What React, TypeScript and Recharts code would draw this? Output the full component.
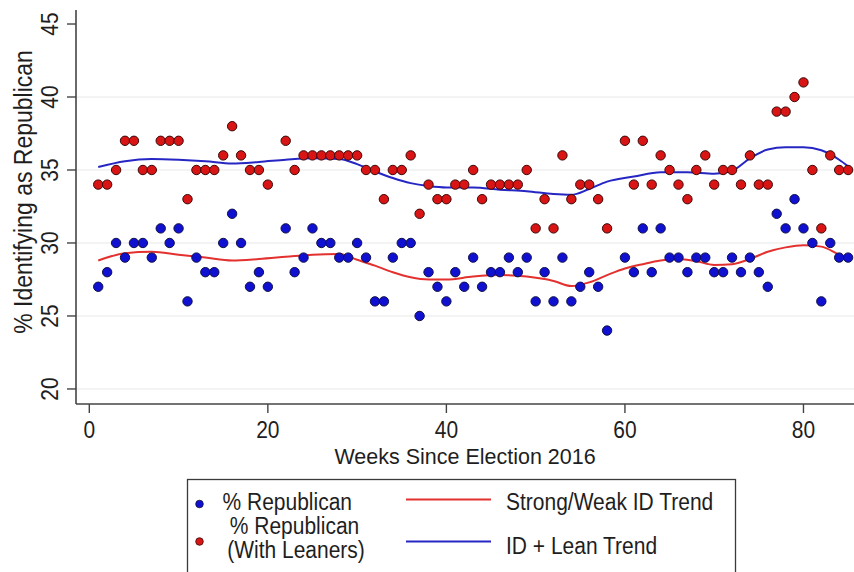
import { ComposedChart, Scatter, Line, XAxis, YAxis, ReferenceLine } from 'recharts';

// ─── Weekly poll values (weeks 21 and 59 have no poll) ───────────────────────
const WEEKS = [
  1, 2, 3, 4, 5, 6, 7, 8, 9, 10, 11, 12, 13, 14, 15, 16, 17, 18, 19, 20,
  22, 23, 24, 25, 26, 27, 28, 29, 30, 31, 32, 33, 34, 35, 36, 37, 38, 39, 40,
  41, 42, 43, 44, 45, 46, 47, 48, 49, 50, 51, 52, 53, 54, 55, 56, 57, 58,
  60, 61, 62, 63, 64, 65, 66, 67, 68, 69, 70, 71, 72, 73, 74, 75, 76, 77, 78, 79, 80, 81, 82, 83, 84, 85,
];

const REP = [
  27, 28, 30, 29, 30, 30, 29, 31, 30, 31, 26, 29, 28, 28, 30, 32, 30, 27, 28, 27,
  31, 28, 29, 31, 30, 30, 29, 29, 30, 29, 26, 26, 29, 30, 30, 25, 28, 27, 26,
  28, 27, 29, 27, 28, 28, 29, 28, 29, 26, 28, 26, 29, 26, 27, 28, 27, 24,
  29, 28, 31, 28, 31, 29, 29, 28, 29, 29, 28, 28, 29, 28, 29, 28, 27, 32, 31, 33, 31, 30, 26, 30, 29, 29,
];

const REP_LEAN = [
  34, 34, 35, 37, 37, 35, 35, 37, 37, 37, 33, 35, 35, 35, 36, 38, 36, 35, 35, 34,
  37, 35, 36, 36, 36, 36, 36, 36, 36, 35, 35, 33, 35, 35, 36, 32, 34, 33, 33,
  34, 34, 35, 33, 34, 34, 34, 34, 35, 31, 33, 31, 36, 33, 34, 34, 33, 31,
  37, 34, 37, 34, 36, 35, 34, 33, 35, 36, 34, 35, 35, 34, 36, 34, 34, 39, 39, 40, 41, 35, 31, 36, 35, 35,
];

// ─── Smoothed trends ─────────────────────────────────────────────────────────
const ID_TREND_WEEKS = [1, 4, 7, 10, 13, 16, 19, 22, 25, 28, 30, 32, 34, 36, 38, 40, 43, 46, 49, 52, 54, 56, 58, 60, 62, 64, 66, 68, 70, 72, 74, 76, 78, 80, 82, 84, 85];
const ID_TREND = [28.8, 29.3, 29.4, 29.2, 29.0, 28.8, 28.9, 29.05, 29.2, 29.25, 28.85, 28.45, 28.0, 27.65, 27.5, 27.5, 27.7, 27.8, 27.7, 27.4, 27.05, 27.3, 27.8, 28.25, 28.55, 28.8, 28.9, 28.75, 28.5, 28.55, 28.9, 29.4, 29.7, 29.85, 29.75, 29.2, 28.95];

const LEAN_TREND_WEEKS = [1, 4, 7, 10, 13, 16, 19, 22, 25, 28, 30, 32, 34, 36, 38, 40, 43, 46, 49, 52, 54, 56, 58, 61, 64, 67, 70, 72, 74, 76, 78, 80, 82, 84, 85];
const LEAN_TREND = [35.2, 35.6, 35.75, 35.7, 35.6, 35.45, 35.55, 35.7, 35.8, 35.75, 35.4, 34.9, 34.45, 34.1, 33.9, 33.8, 33.8, 33.65, 33.55, 33.35, 33.3, 33.7, 34.2, 34.55, 34.85, 34.85, 34.75, 34.95, 35.8, 36.4, 36.55, 36.55, 36.35, 35.7, 35.25];

const X_TICKS = [0, 20, 40, 60, 80];
const Y_TICKS = [20, 25, 30, 35, 40, 45];
const GRID_VALUES = [20, 25, 30, 35, 40];

const FONT = "'Liberation Sans', Arial, sans-serif";
const STRETCH = 1.1;
const AXIS_CLR = '#444';
const TEXT_CLR = '#1e1e1e';

const CLR = {
  repFill: '#1010d0',
  repEdge: '#10104a',
  leanFill: '#d81414',
  leanEdge: '#3c0808',
  idLine: '#e2312f',
  leanLine: '#2626c4',
};

const repData = WEEKS.map((week, i) => ({ week, y: REP[i] }));
const leanData = WEEKS.map((week, i) => ({ week, y: REP_LEAN[i] }));
const idTrendData = ID_TREND_WEEKS.map((week, i) => ({ week, y: ID_TREND[i] }));
const leanTrendData = LEAN_TREND_WEEKS.map((week, i) => ({ week, y: LEAN_TREND[i] }));

const dot = (fill: string, stroke: string) => (p: any) => (
  <circle cx={p.cx} cy={p.cy} r={4.7} fill={fill} stroke={stroke} strokeWidth={1} />
);

function XTick({ x, y, payload }: any) {
  return (
    <g transform={`translate(${x},${y}) scale(1,${STRETCH})`}>
      <text x={0} y={20.8} textAnchor="middle" fontSize={21} fontFamily={FONT} fill={TEXT_CLR}>
        {payload.value}
      </text>
    </g>
  );
}

function YTick({ x, y, payload }: any) {
  return (
    <g transform={`translate(${x},${y}) rotate(-90) scale(1,${STRETCH})`}>
      <text x={0} y={-6} textAnchor="middle" fontSize={21} fontFamily={FONT} fill={TEXT_CLR}>
        {payload.value}
      </text>
    </g>
  );
}

function XTitle({ viewBox }: any) {
  const cx = viewBox.x + viewBox.width / 2;
  return (
    <g transform={`translate(${cx},${viewBox.y + 59.5}) scale(1,1.05)`}>
      <text x={0} y={0} textAnchor="middle" fontSize={21.5} fontFamily={FONT} fill={TEXT_CLR}>
        Weeks Since Election 2016
      </text>
    </g>
  );
}

function YTitle() {
  return (
    <g transform={`translate(32,192) rotate(-90) scale(1,${STRETCH})`}>
      <text x={0} y={0} textAnchor="middle" fontSize={23} fontFamily={FONT} fill={TEXT_CLR}>
        % Identifying as Republican
      </text>
    </g>
  );
}

function LegendBox() {
  const t = { fontSize: 21, fontFamily: FONT, fill: TEXT_CLR };
  const line = (x: number, y: number, label: string, anchor: 'start' | 'middle' = 'start') => (
    <g transform={`translate(${x},${y}) scale(1,${STRETCH})`}>
      <text x={0} y={0} textAnchor={anchor} {...t}>{label}</text>
    </g>
  );
  return (
    <svg width={854} height={572} style={{ position: 'absolute', left: 0, top: 0, pointerEvents: 'none' }}>
      <rect x={187.5} y={479.5} width={548} height={120} fill="#fff" stroke="#3a3a3a" strokeWidth={1.3} />
      <circle cx={199.5} cy={504} r={3.8} fill={CLR.repFill} stroke={CLR.repEdge} strokeWidth={0.8} />
      {line(222.5, 509.5, '% Republican')}
      <line x1={406} x2={491} y1={499.5} y2={499.5} stroke={CLR.idLine} strokeWidth={2} />
      {line(506, 510, 'Strong/Weak ID Trend')}
      <circle cx={199.5} cy={541.5} r={3.8} fill={CLR.leanFill} stroke={CLR.leanEdge} strokeWidth={0.8} />
      {line(294.5, 534, '% Republican', 'middle')}
      {line(296, 557.5, '(With Leaners)', 'middle')}
      <line x1={406} x2={491} y1={541.5} y2={541.5} stroke={CLR.leanLine} strokeWidth={2} />
      {line(506, 553.5, 'ID + Lean Trend')}
    </svg>
  );
}

export default function App() {
  return (
    <div style={{ position: 'absolute', left: 0, top: 0, width: 854, height: 572, background: '#fff', overflow: 'hidden' }}>
      <ComposedChart width={854} height={572} margin={{ top: 10, right: 0, bottom: 0, left: 0 }}>
        <XAxis
          type="number"
          dataKey="week"
          domain={[-1.49, 85.66]}
          allowDataOverflow
          ticks={X_TICKS}
          tickSize={9}
          height={168}
          axisLine={{ stroke: AXIS_CLR, strokeWidth: 1.6 }}
          tickLine={{ stroke: AXIS_CLR, strokeWidth: 1.4 }}
          tick={<XTick />}
          label={<XTitle />}
        />
        <YAxis
          type="number"
          domain={[18.97, 45.96]}
          allowDataOverflow
          ticks={Y_TICKS}
          tickSize={9}
          width={76}
          axisLine={{ stroke: AXIS_CLR, strokeWidth: 1.6 }}
          tickLine={{ stroke: AXIS_CLR, strokeWidth: 1.4 }}
          tick={<YTick />}
          label={<YTitle />}
        />
        {GRID_VALUES.map(v => (
          <ReferenceLine key={v} y={v} stroke="#e8e8e8" strokeWidth={1} ifOverflow="extendDomain" />
        ))}
        <Scatter data={repData} dataKey="y" shape={dot(CLR.repFill, CLR.repEdge)} isAnimationActive={false} />
        <Scatter data={leanData} dataKey="y" shape={dot(CLR.leanFill, CLR.leanEdge)} isAnimationActive={false} />
        <Line data={idTrendData} dataKey="y" type="monotone" stroke={CLR.idLine} strokeWidth={2} dot={false} isAnimationActive={false} />
        <Line data={leanTrendData} dataKey="y" type="monotone" stroke={CLR.leanLine} strokeWidth={2} dot={false} isAnimationActive={false} />
      </ComposedChart>
      <LegendBox />
    </div>
  );
}
